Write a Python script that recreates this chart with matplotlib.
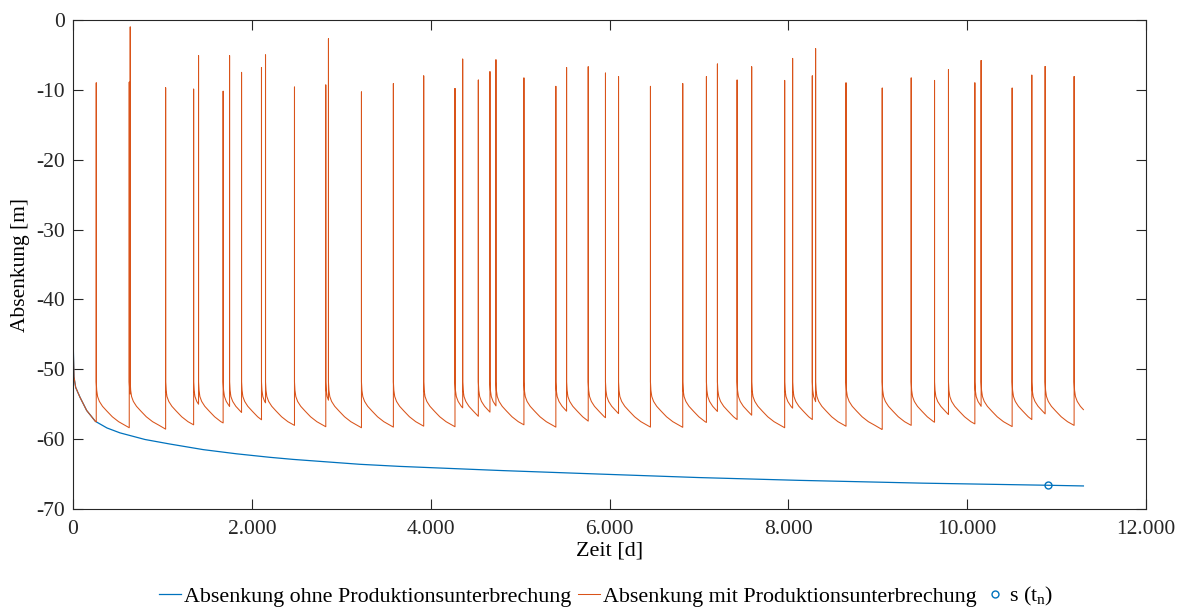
import numpy as np
import matplotlib
matplotlib.use("Agg")
import matplotlib.pyplot as plt
from matplotlib.ticker import FuncFormatter

plt.rcParams['font.family'] = ['Liberation Serif', 'DejaVu Serif']
plt.rcParams['mathtext.fontset'] = 'custom'
plt.rcParams['mathtext.rm'] = 'Liberation Serif'
plt.rcParams['mathtext.it'] = 'Liberation Serif'

# Absenkung ohne Unterbrechung
blue_t = [0, 4, 11, 30, 78, 153, 250, 380, 525, 805, 1084, 1456, 1829, 2201, 2462, 2834, 3207,
          3654, 4800, 5888, 7000, 8123, 9500, 10898, 11300]
blue_s = [-44.2, -47.3, -51.1, -52.6, -54.0, -55.9, -57.45, -58.4, -59.1, -60.05, -60.7, -61.5,
          -62.1, -62.6, -62.9, -63.25, -63.6, -63.9, -64.5, -65.0, -65.5, -65.9, -66.3, -66.6, -66.7]

# Produktionsunterbrechungen: Zeitpunkt und Spitzenwert
event_t = [260, 629, 640, 1036, 1349, 1404, 1679, 1751, 1885, 2108,
           2153, 2477, 2827, 2857, 3226, 3583, 3922, 4272, 4358, 4533,
           4663, 4730, 5043, 5400, 5520, 5762, 5955, 6101, 6458, 6819,
           7084, 7207, 7427, 7590, 7959, 8048, 8268, 8305, 8645, 9050,
           9374, 9635, 9791, 10086, 10156, 10503, 10723, 10872, 11196]
event_peak = [-9.0, -8.9, -1.0, -9.7, -9.9, -5.1, -10.2, -5.1, -7.5, -6.8,
              -5.0, -9.6, -9.3, -2.7, -10.3, -9.1, -8.0, -9.8, -5.6, -8.6,
              -7.4, -5.7, -8.3, -9.5, -6.8, -6.7, -7.6, -8.1, -9.5, -9.1,
              -8.1, -6.3, -8.6, -6.7, -8.65, -5.5, -8.0, -4.1, -9.0, -9.75,
              -8.3, -8.65, -7.1, -9.0, -5.8, -9.75, -7.9, -6.65, -8.1]

# Verlauf nach Wiederanfahren (Tage nach Ereignis, Absenkung)
rest_tau = [0, 5, 15, 35, 70, 120, 180, 250, 320, 400]
rest_s = [-51.8, -53.0, -53.9, -54.6, -55.3, -56.0, -56.8, -57.5, -58.0, -58.6]

t_end = 11300
mark_t = [10900]
mark_s = [-66.6]

# orange Kurve zusammensetzen
ot = [t for t in blue_t if t < event_t[0]]
os_ = [s for t, s in zip(blue_t, blue_s) if t < event_t[0]]
ot.append(event_t[0])
os_.append(np.interp(event_t[0], blue_t, blue_s))
for i, (te, pk) in enumerate(zip(event_t, event_peak)):
    nxt = event_t[i + 1] if i + 1 < len(event_t) else t_end
    gap = nxt - te
    ot += [te, te]
    os_ += [pk, rest_s[0]]
    for tau, s in zip(rest_tau[1:], rest_s[1:]):
        if tau < gap:
            ot.append(te + tau)
            os_.append(s)
    ot.append(nxt)
    os_.append(np.interp(gap, rest_tau, rest_s))

fig = plt.figure(figsize=(11.86, 6.09), dpi=100)
ax = fig.add_axes([73 / 1186, 1 - 509 / 609, 1073 / 1186, 489 / 609])

ax.plot(blue_t, blue_s, color='#0072BD', lw=0.9, label='Absenkung ohne Produktionsunterbrechung')
ax.plot(ot, os_, color='#D95319', lw=0.75, label='Absenkung mit Produktionsunterbrechung')
ax.plot(mark_t, mark_s, 'o', mfc='none', mec='#0072BD', ms=5, mew=1.0, label='s (t$_{\\mathrm{n}}$)')

ax.set_xlim(0, 12000)
ax.set_ylim(-70, 0)
ax.set_xticks(np.arange(0, 12001, 2000))
ax.set_yticks(np.arange(-70, 1, 10))
ax.xaxis.set_major_formatter(FuncFormatter(lambda v, p: f"{int(v):,}".replace(",", ".")))
ax.yaxis.set_major_formatter(FuncFormatter(lambda v, p: f"{int(v)}"))
ax.tick_params(direction='in', length=7.5, width=0.8, colors='#262626', labelsize=15.5,
               top=True, right=True)
ax.tick_params(axis='x', pad=8)
ax.tick_params(axis='y', pad=6)
for sp in ax.spines.values():
    sp.set_color('#262626')
    sp.set_linewidth(0.8)

ax.set_xlabel('Zeit [d]', fontsize=16, labelpad=2)
ax.set_ylabel('Absenkung [m]', fontsize=15.5, labelpad=4)

fig.legend(loc='lower center', bbox_to_anchor=(0.511, -0.031), ncol=3, frameon=False,
           fontsize=15.8, handlelength=1.0, handletextpad=0.15, columnspacing=0.3)

fig.savefig('out.png', dpi=100)
